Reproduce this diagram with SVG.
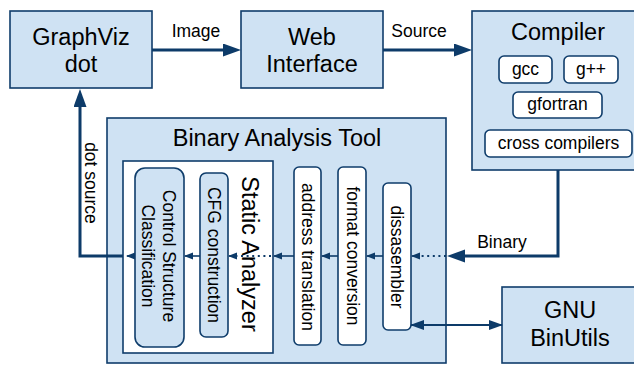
<svg xmlns="http://www.w3.org/2000/svg" width="634" height="371" viewBox="0 0 634 371">
<defs>
<style>
.box{fill:#cfe2f3;stroke:#0f3d6b;stroke-width:1.6}
.wbox{fill:#ffffff;stroke:#0f3d6b;stroke-width:1.6}
.big{font-family:"Liberation Sans",Arial,sans-serif;font-size:23.5px;fill:#000;text-anchor:middle}
.sm{font-family:"Liberation Sans",Arial,sans-serif;font-size:17.5px;fill:#000;text-anchor:middle}
.thick{fill:none;stroke:#0d3b69;stroke-width:3}
.thin{fill:none;stroke:#0d3b69;stroke-width:1.6}
.mid{fill:none;stroke:#0d3b69;stroke-width:2.2}
.dot{fill:none;stroke:#0d3b69;stroke-width:1.8;stroke-dasharray:2 3.6}
</style>
<marker id="ab" markerUnits="userSpaceOnUse" markerWidth="18" markerHeight="14" refX="8" refY="6.5" orient="auto"><path d="M0,0 L18,6.5 L0,13 z" fill="#0d3b69"/></marker>
<marker id="as" markerUnits="userSpaceOnUse" markerWidth="9" markerHeight="8" refX="8" refY="3.5" orient="auto"><path d="M0,0 L9,3.5 L0,7 z" fill="#0d3b69"/></marker>
<marker id="am" markerUnits="userSpaceOnUse" markerWidth="15" markerHeight="11" refX="13" refY="5" orient="auto-start-reverse"><path d="M0,0 L14,5 L0,10 z" fill="#0d3b69"/></marker>
</defs>

<g id="graphviz">
<rect class="box" x="10" y="11" width="142" height="77"/>
<text class="big" x="81" y="45">GraphViz</text>
<text class="big" x="81" y="72">dot</text>
</g>

<g id="web">
<rect class="box" x="241" y="11" width="142" height="77"/>
<text class="big" x="312" y="45">Web</text>
<text class="big" x="312" y="72">Interface</text>
</g>

<g id="compiler">
<rect class="box" x="472" y="11" width="173" height="159"/>
<text class="big" x="558" y="40">Compiler</text>
<rect class="wbox" x="499" y="56" width="53" height="27" rx="5"/>
<text class="sm" x="525.5" y="75">gcc</text>
<rect class="wbox" x="564" y="56" width="54" height="27" rx="5"/>
<text class="sm" x="591" y="75">g++</text>
<rect class="wbox" x="513" y="92" width="89" height="26" rx="5"/>
<text class="sm" x="557.5" y="110">gfortran</text>
<rect class="wbox" x="485" y="130" width="147" height="27" rx="5"/>
<text class="sm" x="558.5" y="149">cross compilers</text>
</g>

<g id="bat">
<rect class="box" x="107" y="118" width="339" height="245"/>
<text class="big" x="277" y="146">Binary Analysis Tool</text>
</g>

<g id="static-analyzer">
<rect class="wbox" x="123" y="161" width="150" height="192"/>
<text class="big" transform="translate(242,254) rotate(90)">Static Analyzer</text>
</g>

<g id="control-structure">
<rect class="box" x="135" y="168" width="49" height="179" rx="10"/>
<text class="sm" transform="translate(163,256) rotate(90)"><tspan x="0" y="0">Control Structure</tspan><tspan x="0" y="21">Classification</tspan></text>
</g>

<g id="cfg">
<rect class="box" x="200" y="173" width="28" height="164" rx="6"/>
<text class="sm" transform="translate(207.5,255) rotate(90)">CFG construction</text>
</g>

<g id="address-translation">
<rect class="wbox" x="294" y="167" width="27" height="178" rx="5"/>
<text class="sm" transform="translate(302,257) rotate(90)">address translation</text>
</g>

<g id="format-conversion">
<rect class="wbox" x="338" y="167" width="28" height="178" rx="5"/>
<text class="sm" transform="translate(346.5,256) rotate(90)">format conversion</text>
</g>

<g id="dissasembler">
<rect class="wbox" x="383" y="183" width="28" height="147" rx="5"/>
<text class="sm" transform="translate(391,257) rotate(90)">dissasembler</text>
</g>

<g id="binutils">
<rect class="box" x="502" y="287" width="136" height="76"/>
<text class="big" x="570" y="318">GNU</text>
<text class="big" x="570" y="346">BinUtils</text>
</g>

<g id="connectors">
<path class="thick" d="M152,50 H231" marker-end="url(#ab)"/>
<text class="sm" x="196" y="37">Image</text>
<path class="thick" d="M383,50 H462" marker-end="url(#ab)"/>
<text class="sm" x="419" y="37">Source</text>
<path class="thick" d="M558,170 V256 H457" marker-end="url(#ab)"/>
<text class="sm" x="502" y="248">Binary</text>
<path class="thick" d="M123,256 H80 V99" marker-end="url(#ab)"/>
<text class="sm" transform="translate(85,183) rotate(90)">dot source</text>
<path class="mid" d="M411,325 H502" marker-start="url(#am)" marker-end="url(#am)"/>
<path class="dot" d="M446,256 H419"/>
<path class="thin" d="M419,256 H412" marker-end="url(#as)"/>
<path class="thin" d="M383,256 H367" marker-end="url(#as)"/>
<path class="thin" d="M338,256 H322" marker-end="url(#as)"/>
<path class="thin" d="M294,256 H274" marker-end="url(#as)"/>
<path class="dot" d="M271,256 H237"/>
<path class="thin" d="M237,256 H229" marker-end="url(#as)"/>
<path class="thin" d="M200,256 H185" marker-end="url(#as)"/>
<path class="thin" d="M135,256 H127" marker-end="url(#as)"/>
</g>
</svg>
